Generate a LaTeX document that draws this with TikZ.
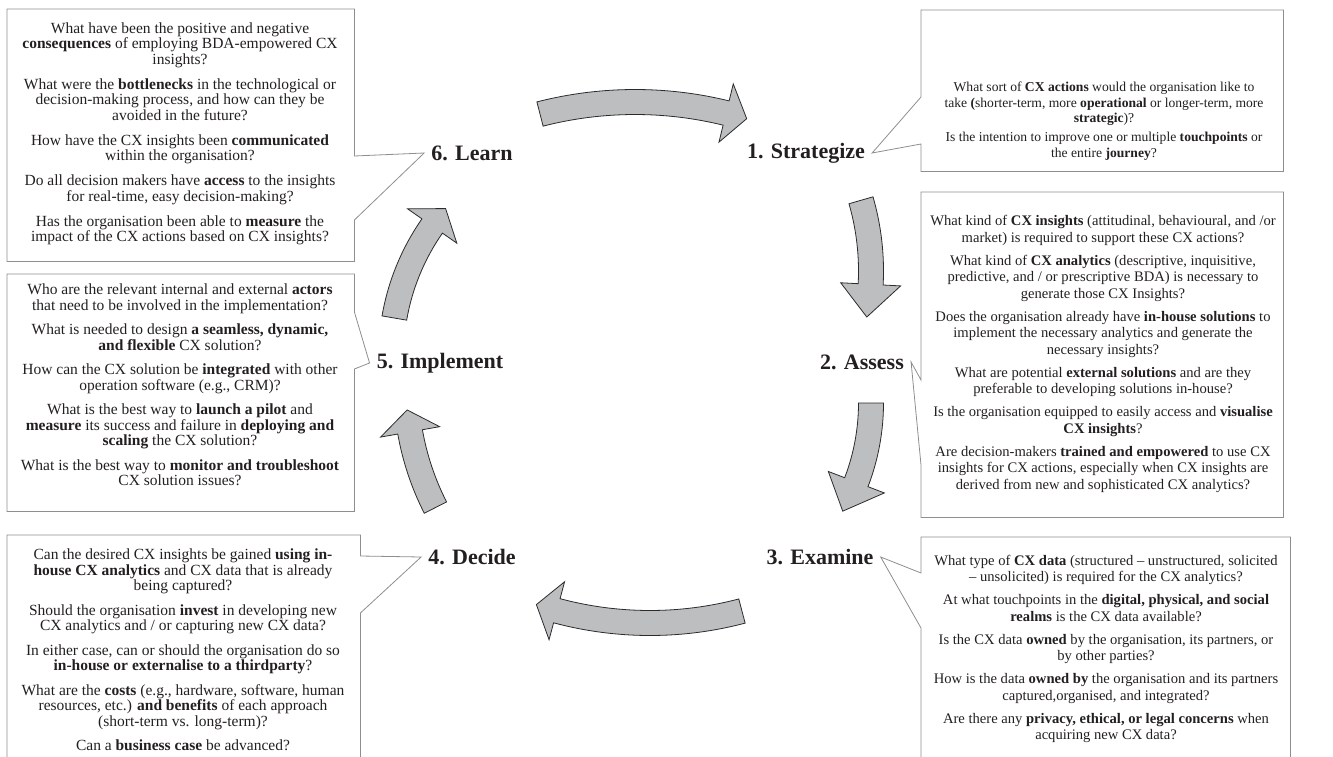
\documentclass[tikz,border=0pt]{standalone}
\usepackage{fontspec}
\setmainfont{Liberation Serif}
\usetikzlibrary{calc}

\definecolor{txt}{HTML}{231F20}
\definecolor{boxgray}{HTML}{8E8E8E}
\definecolor{arrowfill}{HTML}{BCBEC0}
\definecolor{arrowedge}{HTML}{2B2B2B}

% curved block arrow: {centre}{radius}{tail angle}{head base angle}{tip angle}
\newcommand{\cyclearrow}[5]{%
  \draw[cyclearrow] ([shift={(#1)}]#3:{(#2+12.5)*1pt}) arc[start angle=#3, end angle=#4, radius={(#2+12.5)*1pt}]
    -- ([shift={(#1)}]#4:{(#2+30)*1pt}) -- ([shift={(#1)}]#5:{#2*1pt}) -- ([shift={(#1)}]#4:{(#2-30)*1pt})
    -- ([shift={(#1)}]#4:{(#2-12.5)*1pt}) arc[start angle=#4, end angle=#3, radius={(#2-12.5)*1pt}] -- cycle;}

\begin{document}
\begin{tikzpicture}[x=1pt,y=1pt,
    stage/.style={font=\fontsize{22}{24}\selectfont\bfseries, text=txt, inner sep=2pt},
    qtext/.style={align=center, text=txt, inner sep=0pt},
    leftq/.style={qtext, font=\fontsize{15.5}{15.5}\selectfont},
    rightq/.style={qtext, font=\fontsize{14.6}{16.5}\selectfont},
    topq/.style={qtext, font=\fontsize{13.6}{15.5}\selectfont},
    frame/.style={inner sep=0pt, anchor=north west},
    callout/.style={draw=boxgray, line width=0.8pt},
    cyclearrow/.style={draw=arrowedge, fill=arrowfill, line width=0.8pt}]

    %%% BOUNDING BOX %%%
    \useasboundingbox (0,0) rectangle (1333,-757);

    %%% STAGES %%%
    \node[stage] (s1) at (806,-153) {1. Strategize};
    \node[stage] (s2) at (862,-362) {2. Assess};
    \node[stage] (s3) at (820,-557) {3. Examine};
    \node[stage] (s4) at (472,-557) {4. Decide};
    \node[stage] (s5) at (440,-363) {5. Implement};
    \node[stage] (s6) at (472,-153) {6. Learn};

    %%% ARROWS %%%
    \cyclearrow{635,-484}{382}{104.4}{76.2}{73.0}
    \cyclearrow{616,-271}{255}{16.1}{-3}{-10.4}
    \cyclearrow{650,-403}{221}{0}{-21}{-29.3}
    \cyclearrow{650,-263}{360}{-75.2}{-105}{-108.4}
    \cyclearrow{676,-385}{270}{207}{190}{185.3}
    \cyclearrow{620,-357}{229}{170.2}{145.1}{139.6}

    %%% FRAMES %%%
    \node[frame, minimum width=362pt, minimum height=161pt] (f1) at (921,-10) {};
    \node[frame, minimum width=362pt, minimum height=325pt] (f2) at (921,-192) {};
    \node[frame, minimum width=369pt, minimum height=222pt] (f3) at (921,-537) {};
    \node[frame, minimum width=353pt, minimum height=224pt] (f4) at (7,-535) {};
    \node[frame, minimum width=347pt, minimum height=237pt] (f5) at (7,-274) {};
    \node[frame, minimum width=347pt, minimum height=252pt] (f6) at (7,-9) {};

    %%% CALLOUTS %%%
    \draw[callout] (f1.north east) -- (f1.north west) -- ([yshift=-87pt]f1.north west) -- ([xshift=5pt]s1.east)
        -- ([yshift=-134pt]f1.north west) -- (f1.south west) -- (f1.south east) -- cycle;
    \draw[callout] (f2.north east) -- (f2.north west) -- ([yshift=-188pt]f2.north west) -- ([xshift=5pt]s2.east)
        -- ([yshift=-273pt]f2.north west) -- (f2.south west) -- (f2.south east) -- cycle;
    \draw[callout] (f3.south east) -- (f3.north east) -- (f3.north west) -- ([yshift=-36pt]f3.north west)
        -- ([xshift=5pt]s3.east) -- ([yshift=-91pt]f3.north west) -- (f3.south west);
    \draw[callout] (f4.south west) -- (f4.north west) -- (f4.north east) -- ([yshift=-21pt]f4.north east)
        -- ([xshift=-5pt]s4.west) -- ([yshift=-78pt]f4.north east) -- (f4.south east);
    \draw[callout] (f5.north west) -- (f5.north east) -- ([yshift=-38pt]f5.north east) -- ([xshift=-5pt]s5.west)
        -- ([yshift=-95pt]f5.north east) -- (f5.south east) -- (f5.south west) -- cycle;
    \draw[callout] (f6.north west) -- (f6.north east) -- ([yshift=-147pt]f6.north east) -- ([xshift=-5pt]s6.west)
        -- ([yshift=-211pt]f6.north east) -- (f6.south east) -- (f6.south west) -- cycle;

    %%% QUESTIONS %%%
    \node[topq] (q1) at (1104,-121) {What sort of \textbf{CX actions} would the organisation like to\\
        take \textbf{(}shorter-term, more \textbf{operational} or longer-term, more\\
        \textbf{strategic})?\\[3.5pt]
        Is the intention to improve one or multiple \textbf{touchpoints} or\\
        the entire \textbf{journey}?};
    \node[rightq] (q2) at (1103,-354) {What kind of \textbf{CX insights} (attitudinal, behavioural, and /or\\
        market) is required to support these CX actions?\\[6.5pt]
        What kind of \textbf{CX analytics} (descriptive, inquisitive,\\
        predictive, and / or prescriptive BDA) is necessary to\\
        generate those CX Insights?\\[6.5pt]
        Does the organisation already have \textbf{in-house solutions} to\\
        implement the necessary analytics and generate the\\
        necessary insights?\\[6.5pt]
        What are potential \textbf{external solutions} and are they\\
        preferable to developing solutions in-house?\\[6.5pt]
        Is the organisation equipped to easily access and \textbf{visualise}\\
        \textbf{CX insights}?\\[6.5pt]
        Are decision-makers \textbf{trained and empowered} to use CX\\
        insights for CX actions, especially when CX insights are\\
        derived from new and sophisticated CX analytics?};
    \node[rightq] (q3) at (1106,-649) {What type of \textbf{CX data} (structured -- unstructured, solicited\\
        -- unsolicited) is required for the CX analytics?\\[6.5pt]
        At what touchpoints in the \textbf{digital, physical, and social}\\
        \textbf{realms} is the CX data available?\\[6.5pt]
        Is the CX data \textbf{owned} by the organisation, its partners, or\\
        by other parties?\\[6.5pt]
        How is the data \textbf{owned by} the organisation and its partners\\
        captured,organised, and integrated?\\[6.5pt]
        Are there any \textbf{privacy, ethical, or legal concerns} when\\
        acquiring new CX data?};
    \node[leftq] (q4) at (183,-650) {Can the desired CX insights be gained \textbf{using in-}\\
        \textbf{house CX analytics} and CX data that is already\\
        being captured?\\[9pt]
        Should the organisation \textbf{invest} in developing new\\
        CX analytics and / or capturing new CX data?\\[9pt]
        In either case, can or should the organisation do so\\
        \textbf{in-house or externalise to a thirdparty}?\\[9pt]
        What are the \textbf{costs} (e.g., hardware, software, human\\
        resources, etc.) \textbf{and benefits} of each approach\\
        (short-term vs. long-term)?\\[9pt]
        Can a \textbf{business case} be advanced?};
    \node[leftq] (q5) at (180,-385) {Who are the relevant internal and external \textbf{actors}\\
        that need to be involved in the implementation?\\[9pt]
        What is needed to design \textbf{a seamless, dynamic,}\\
        \textbf{and flexible} CX solution?\\[9pt]
        How can the CX solution be \textbf{integrated} with other\\
        operation software (e.g., CRM)?\\[9pt]
        What is the best way to \textbf{launch a pilot} and\\
        \textbf{measure} its success and failure in \textbf{deploying and}\\
        \textbf{scaling} the CX solution?\\[9pt]
        What is the best way to \textbf{monitor and troubleshoot}\\
        CX solution issues?};
    \node[leftq] (q6) at (180,-134) {What have been the positive and negative\\
        \textbf{consequences} of employing BDA-empowered CX\\
        insights?\\[9.5pt]
        What were the \textbf{bottlenecks} in the technological or\\
        decision-making process, and how can they be\\
        avoided in the future?\\[9.5pt]
        How have the CX insights been \textbf{communicated}\\
        within the organisation?\\[9.5pt]
        Do all decision makers have \textbf{access} to the insights\\
        for real-time, easy decision-making?\\[9.5pt]
        Has the organisation been able to \textbf{measure} the\\
        impact of the CX actions based on CX insights?};
\end{tikzpicture}
\end{document}
